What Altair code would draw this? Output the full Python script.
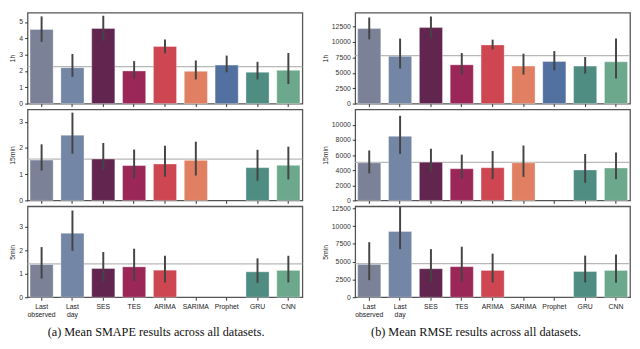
import altair as alt
import pandas as pd

methods = ["Last observed", "Last day", "SES", "TES", "ARIMA", "SARIMA", "Prophet", "GRU", "CNN"]
colors = ["#7b8298", "#7486a6", "#62254f", "#9b2759", "#cd4651", "#e17f62", "#5270a0", "#4f8c82", "#6ca88c"]

# SMAPE
smape_1h = [4.54, 2.20, 4.60, 2.00, 3.50, 1.98, 2.36, 1.92, 2.04]
smape_1h_lo = [3.78, 1.64, 3.84, 1.54, 3.08, 1.48, 1.92, 1.48, 1.20]
smape_1h_hi = [5.34, 3.04, 5.38, 2.60, 3.92, 2.64, 2.94, 2.56, 3.10]
smape_15 = [1.54, 2.49, 1.58, 1.33, 1.39, 1.53, None, 1.25, 1.34]
smape_15_lo = [1.14, 1.78, 1.16, 0.85, 0.90, 0.95, None, 0.75, 0.80]
smape_15_hi = [2.14, 3.35, 2.19, 1.94, 2.09, 2.24, None, 1.93, 2.05]
smape_5 = [1.39, 2.72, 1.22, 1.29, 1.15, None, None, 1.08, 1.14]
smape_5_lo = [0.79, 1.97, 0.67, 0.69, 0.63, None, None, 0.61, 0.63]
smape_5_hi = [2.13, 3.68, 1.92, 2.06, 1.76, None, None, 1.65, 1.76]
smape_ref = [2.26, 1.58, 1.42]

# RMSE
rmse_1h = [12180, 7680, 12340, 6300, 9530, 6090, 6830, 6090, 6780]
rmse_1h_lo = [10430, 5700, 10700, 4710, 8790, 4710, 5400, 4870, 4080]
rmse_1h_hi = [13980, 10560, 14140, 8210, 10380, 8100, 8530, 7570, 10590]
rmse_15 = [4980, 8480, 5060, 4200, 4330, 4980, None, 4030, 4290]
rmse_15_lo = [3590, 6150, 3810, 2860, 2810, 3120, None, 2340, 2810]
rmse_15_hi = [6620, 11200, 6840, 6060, 6540, 7270, None, 6150, 6360]
rmse_5 = [4620, 9230, 4010, 4300, 3770, None, None, 3620, 3770]
rmse_5_lo = [2400, 6760, 2080, 2170, 2080, None, None, 2080, 2030]
rmse_5_hi = [7740, 12700, 6760, 7100, 6130, None, None, 5850, 5990]
rmse_ref = [7800, 5050, 4730]

rows = ["1h", "15min", "5min"]
smape_ticks = [[0, 1, 2, 3, 4, 5], [0, 1, 2, 3], [0, 1, 2, 3]]
rmse_ticks = [[0, 2500, 5000, 7500, 10000, 12500], [0, 2000, 4000, 6000, 8000, 10000],
              [0, 2500, 5000, 7500, 10000, 12500]]
smape_max = [5.57, 3.47, 3.86]
rmse_max = [14770, 12040, 12780]

captions = ["(a) Mean SMAPE results across all datasets.", "(b) Mean RMSE results across all datasets."]

W, H = 281, 93
FONT = "Liberation Sans"
FS = 7


def panel(vals, lo, hi, ref, ticks, ymax, title, bottom):
    df = pd.DataFrame({"method": methods, "v": vals, "lo": lo, "hi": hi}).dropna()
    xaxis = alt.Axis(
        title=None, domain=False, tickSize=3, tickColor="#333", tickWidth=1, labelAngle=0,
        labels=bottom, labelFont=FONT, labelFontSize=FS, labelColor="#222",
        labelExpr="split(datum.value, ' ')", labelPadding=2, labelLineHeight=8.5,
        labelOverlap=False,
    )
    xscale = alt.Scale(domain=methods, paddingInner=0.25, paddingOuter=0.08)
    yscale = alt.Scale(domain=[0, ymax], nice=False, zero=True)
    yaxis = alt.Axis(values=ticks, format="d", title=title, domain=False, tickSize=3,
                     tickColor="#333", tickWidth=1, labelOverlap=False,
                     labelFont=FONT, labelFontSize=FS, labelColor="#333", labelPadding=2,
                     titleFont=FONT, titleFontSize=FS, titleFontWeight="normal",
                     titleColor="#222", titlePadding=3, grid=False)
    base = alt.Chart(df)
    bars = base.mark_bar(stroke="#ffffff", strokeOpacity=0.35, strokeWidth=1).encode(
        x=alt.X("method:N", sort=methods, axis=xaxis, scale=xscale),
        y=alt.Y("v:Q", scale=yscale, axis=yaxis),
        color=alt.Color("method:N", scale=alt.Scale(domain=methods, range=colors), legend=None),
    )
    err = base.mark_rule(color="#444444", strokeWidth=2).encode(
        x=alt.X("method:N", sort=methods, axis=xaxis, scale=xscale),
        y=alt.Y("lo:Q", scale=yscale, axis=yaxis),
        y2="hi:Q",
    )
    refline = alt.Chart(pd.DataFrame({"r": [ref]})).mark_rule(color="#b8b8b8", strokeWidth=1.3).encode(
        y=alt.Y("r:Q", scale=yscale, axis=yaxis)
    )
    return alt.layer(refline, bars, err).properties(width=W, height=H)


smape_sets = [(smape_1h, smape_1h_lo, smape_1h_hi), (smape_15, smape_15_lo, smape_15_hi),
              (smape_5, smape_5_lo, smape_5_hi)]
rmse_sets = [(rmse_1h, rmse_1h_lo, rmse_1h_hi), (rmse_15, rmse_15_lo, rmse_15_hi),
             (rmse_5, rmse_5_lo, rmse_5_hi)]


def caption(text):
    return alt.TitleParams(text, orient="bottom", anchor="middle", font="Liberation Serif",
                           fontSize=12.5, fontWeight="normal", color="#111", offset=8)


left = alt.vconcat(*[
    panel(*smape_sets[i], smape_ref[i], smape_ticks[i], smape_max[i], rows[i], i == 2)
    for i in range(3)
], spacing=6, bounds="flush", title=caption(captions[0]))

right = alt.vconcat(*[
    panel(*rmse_sets[i], rmse_ref[i], rmse_ticks[i], rmse_max[i], rows[i], i == 2)
    for i in range(3)
], spacing=6, bounds="flush", title=caption(captions[1]))

chart = alt.hconcat(left, right, spacing=16).properties(padding=0).configure_view(
    stroke="#555555", strokeWidth=1.3
)

chart.save("out.html", embed_options={"renderer": "svg", "actions": False})
